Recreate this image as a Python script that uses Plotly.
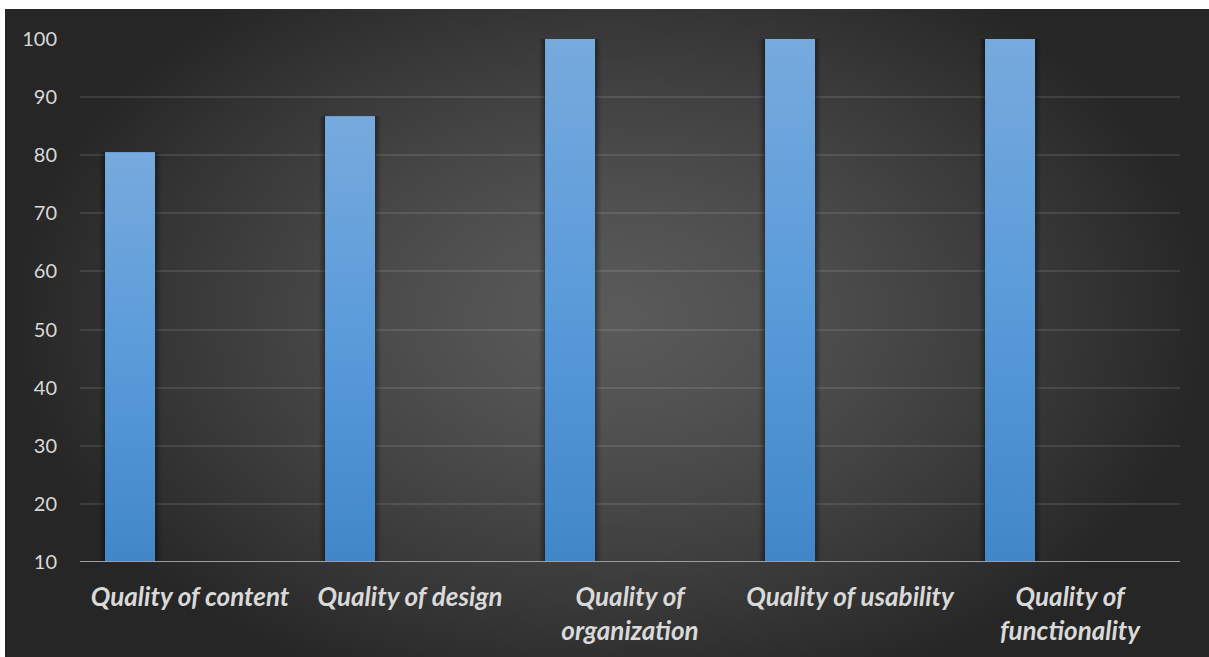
import base64
import struct
import zlib

import numpy as np
import plotly.graph_objects as go

# ---- data -------------------------------------------------------------
categories = [
    "Quality of content",
    "Quality of design",
    "Quality of organization",
    "Quality of usability",
    "Quality of functionality",
]
tick_labels = [
    "Quality of content",
    "Quality of design",
    "Quality of<br>organization",
    "Quality of usability",
    "Quality of<br>functionality",
]
scores = [80.5, 86.7, 100, 100, 100]
y_ticks = [10, 20, 30, 40, 50, 60, 70, 80, 90, 100]

# ---- geometry / style ---------------------------------------------------
W, H = 1209, 657
M_L, M_R, M_T, M_B = 80, 29, 39, 95
BG_LEFT, BG_TOP = 5, 9
BAR_OFFSET = -0.386   # bar sits at the left side of each category slot
BAR_WIDTH = 0.227
Y_MIN = 10
TEXT = "#d9d9d9"
FONT = "Lato"


def radial_background(w, h):
    """Dark radial gradient as a PNG data URI (pure numpy + zlib)."""
    ys, xs = np.mgrid[0:h, 0:w].astype(float)
    cx, cy = w * 0.5, h * 0.47
    t = np.sqrt(((xs - cx) / (w * 0.5)) ** 2 + ((ys - cy) / (h * 0.62)) ** 2)
    t = np.clip(t, 0, 1) ** 1.3
    inner = np.array([0x5a, 0x5a, 0x5a], float)
    outer = np.array([0x26, 0x26, 0x26], float)
    img = inner[None, None, :] * (1 - t[..., None]) + outer[None, None, :] * t[..., None]
    img = img.round().astype(np.uint8)
    raw = b"".join(b"\x00" + img[r].tobytes() for r in range(h))

    def chunk(tag, data):
        c = struct.pack(">I", len(data)) + tag + data
        return c + struct.pack(">I", zlib.crc32(tag + data) & 0xFFFFFFFF)

    png = b"\x89PNG\r\n\x1a\n"
    png += chunk(b"IHDR", struct.pack(">IIBBBBB", w, h, 8, 2, 0, 0, 0))
    png += chunk(b"IDAT", zlib.compress(raw, 9))
    png += chunk(b"IEND", b"")
    return "data:image/png;base64," + base64.b64encode(png).decode()


plot_w = W - M_L - M_R
plot_h = H - M_T - M_B
xpos = list(range(len(categories)))

fig = go.Figure()

# soft shadow around each bar
for extra, alpha in [(0.05, 0.10), (0.03, 0.14), (0.012, 0.18)]:
    fig.add_trace(go.Bar(
        x=xpos, y=[v - Y_MIN for v in scores], base=Y_MIN,
        offset=BAR_OFFSET - extra / 2, width=BAR_WIDTH + extra,
        marker=dict(color=f"rgba(0,0,0,{alpha})", line_width=0),
        hoverinfo="skip", showlegend=False,
    ))

# the bars themselves
fig.add_trace(go.Bar(
    x=xpos, y=[v - Y_MIN for v in scores], base=Y_MIN,
    offset=BAR_OFFSET, width=BAR_WIDTH,
    marker=dict(color="#5a9bd8", line_width=0),
    customdata=categories,
    hovertemplate="%{customdata}: %{y}<extra></extra>",
    showlegend=False,
))

# vertical light-to-dark blue shading laid over each bar
for i, v in enumerate(scores):
    x0 = xpos[i] + BAR_OFFSET
    x1 = x0 + BAR_WIDTH
    fig.add_trace(go.Scatter(
        x=[x0, x1, x1, x0, x0], y=[Y_MIN, Y_MIN, v, v, Y_MIN],
        mode="lines", line=dict(width=0), fill="toself",
        fillgradient=dict(type="vertical",
                          colorscale=[[0, "#4187c8"], [0.5, "#5a9bda"], [1, "#77aadd"]]),
        hoverinfo="skip", showlegend=False,
    ))

fig.update_layout(
    width=W, height=H,
    margin=dict(l=M_L, r=M_R, t=M_T, b=M_B, pad=0),
    paper_bgcolor="white",
    plot_bgcolor="rgba(0,0,0,0)",
    barmode="overlay",
    showlegend=False,
    font=dict(family=FONT, color=TEXT),
    images=[dict(
        source=radial_background(302, 162),
        xref="paper", yref="paper",
        x=-(M_L - BG_LEFT) / plot_w, y=1 + (M_T - BG_TOP) / plot_h,
        sizex=(W - BG_LEFT + 4) / plot_w, sizey=(H - BG_TOP + 4) / plot_h,
        xanchor="left", yanchor="top", sizing="stretch", layer="below",
    )],
    xaxis=dict(
        range=[-0.5, len(categories) - 0.5],
        tickvals=xpos, ticktext=tick_labels,
        showgrid=False, zeroline=False, showline=False, ticks="",
        tickfont=dict(family=FONT, size=26, color=TEXT, weight="bold", style="italic"),
        ticklabelstandoff=17,
    ),
    yaxis=dict(
        range=[Y_MIN, 100], tickvals=y_ticks,
        showgrid=True, gridcolor="rgba(255,255,255,0.10)", gridwidth=2,
        zeroline=False, showline=False, ticks="",
        tickfont=dict(family=FONT, size=20, color=TEXT),
        ticklabelstandoff=22,
    ),
    shapes=[dict(
        type="line", xref="paper", yref="y",
        x0=0, x1=1, y0=Y_MIN, y1=Y_MIN,
        line=dict(color="#9e9e9e", width=2), layer="above",
    )],
)

fig.write_html("out.html")
